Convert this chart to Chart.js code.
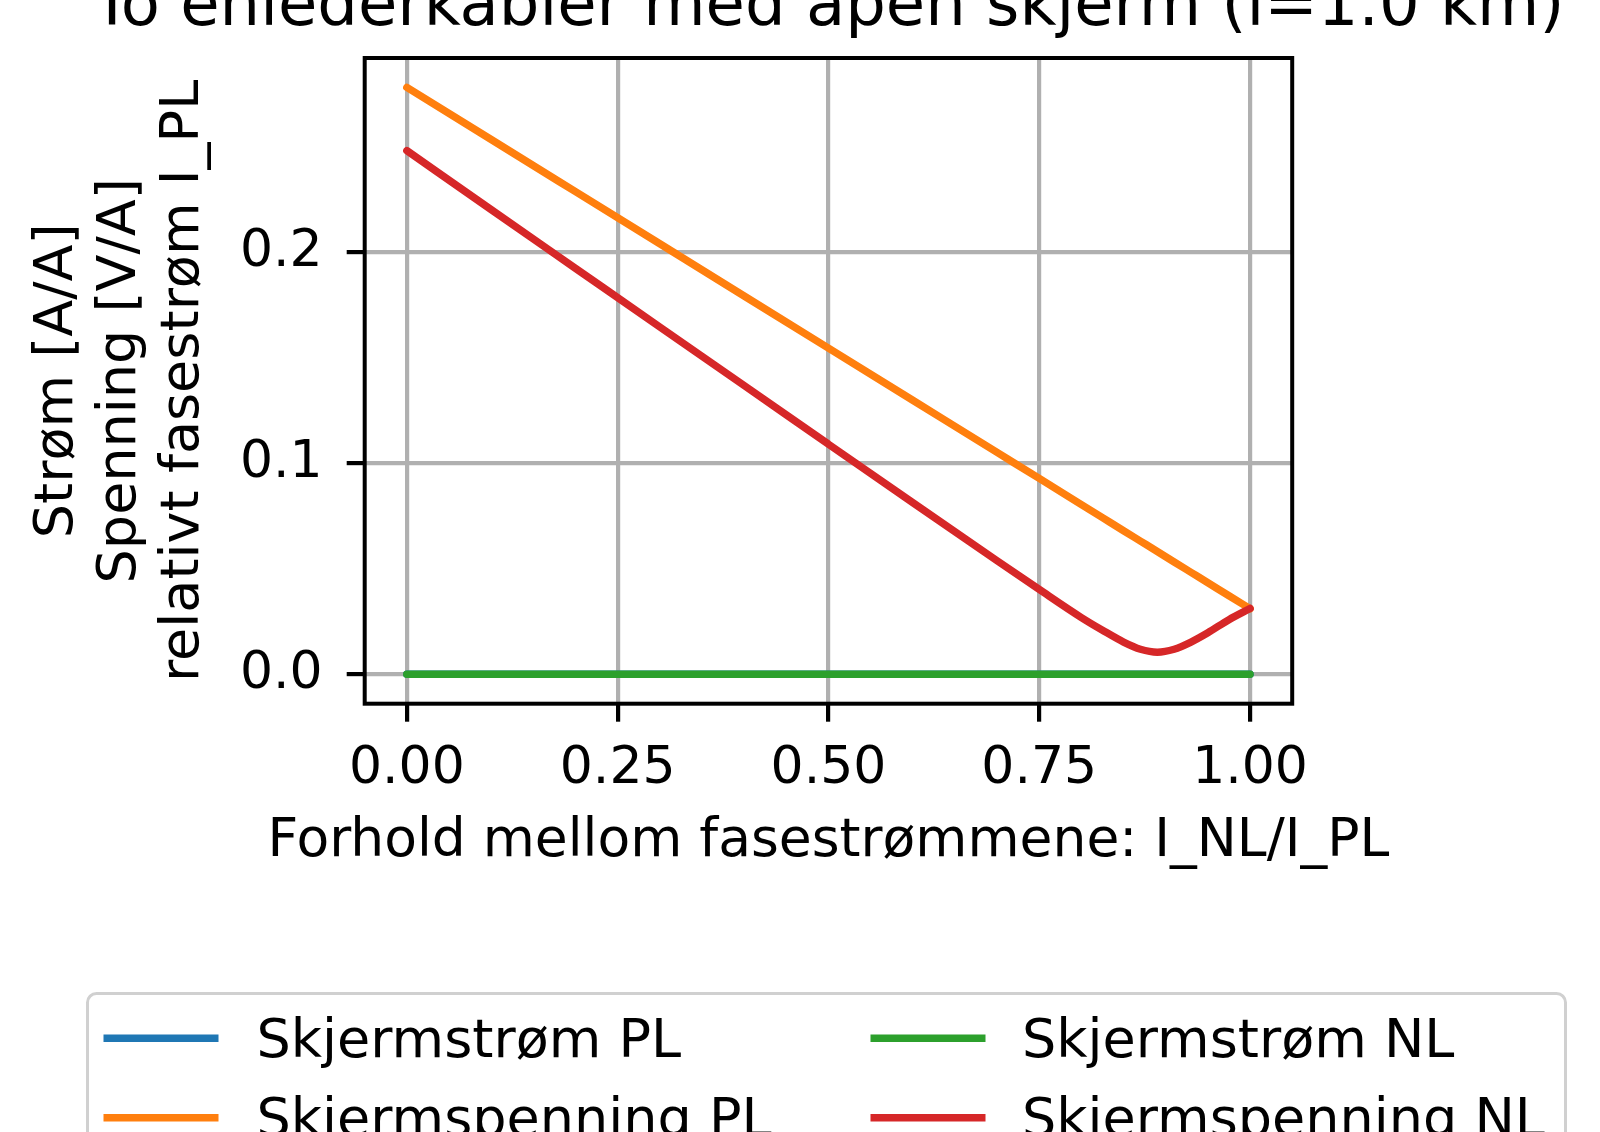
<!DOCTYPE html>
<html>
<head>
<meta charset="utf-8">
<script src="https://cdn.jsdelivr.net/npm/chart.js@4.4.1/dist/chart.umd.min.js"></script>
<style>
  html, body { margin: 0; padding: 0; background: #fff; }
  canvas { display: block; }
</style>
</head>
<body>
<canvas id="myChart" width="1600" height="1132"></canvas>
<script>
// ratio I_NL/I_PL
var xValues = [0, 0.1, 0.2, 0.3, 0.4, 0.5, 0.6, 0.7, 0.75, 0.8, 0.825, 0.85, 0.87, 0.89, 0.91, 0.93, 0.95, 0.975, 1.0];

var skjermstromPL   = [0, 0, 0, 0, 0, 0, 0, 0, 0, 0, 0, 0, 0, 0, 0, 0, 0, 0, 0];
var skjermspenningPL = [0.278, 0.2533, 0.2286, 0.2039, 0.1792, 0.1545, 0.1298, 0.1051, 0.0928, 0.0804, 0.0742, 0.068, 0.0631, 0.0582, 0.0532, 0.0483, 0.0434, 0.0372, 0.0311];
var skjermstromNL   = [0, 0, 0, 0, 0, 0, 0, 0, 0, 0, 0, 0, 0, 0, 0, 0, 0, 0, 0];
var skjermspenningNL = [0.248, 0.2201, 0.1923, 0.1645, 0.1368, 0.109, 0.0813, 0.0538, 0.0402, 0.0269, 0.0209, 0.0153, 0.0119, 0.0105, 0.0119, 0.0153, 0.0197, 0.0259, 0.0312];

var seriesNames = ['Skjermstrøm PL', 'Skjermspenning PL', 'Skjermstrøm NL', 'Skjermspenning NL'];
var seriesColors = ['#1f77b4', '#ff7f0e', '#2ca02c', '#d62728'];

var xTicks = [0, 0.25, 0.5, 0.75, 1.0];
var xTickLabels = ['0.00', '0.25', '0.50', '0.75', '1.00'];
var yTicks = [0, 0.1, 0.2];
var yTickLabels = ['0.0', '0.1', '0.2'];

var titleText = 'To enlederkabler med åpen skjerm (l=1.0 km)';
var xTitle = 'Forhold mellom fasestrømmene: I_NL/I_PL';
var yTitle = ['Strøm [A/A]', 'Spenning [V/A]', 'relativt fasestrøm I_PL'];

function points(ys) {
    return xValues.map(function (x, i) { return { x: x, y: ys[i] }; });
}

var allY = skjermstromPL.concat(skjermspenningPL, skjermstromNL, skjermspenningNL);
var yLo = Math.min.apply(null, allY), yHi = Math.max.apply(null, allY);
var yPad = (yHi - yLo) * 0.05;

Chart.defaults.font.family = 'DejaVu Sans';
Chart.defaults.color = '#000';

// title and x label drawn by hand: they are wider than the plot box
var textPlugin = {
    id: 'mplText',
    afterDraw: function (chart) {
        var c = chart.ctx, a = chart.chartArea;
        var cx = (a.left + a.right) / 2;
        c.save();
        c.fillStyle = '#000';
        c.textAlign = 'center';
        c.textBaseline = 'alphabetic';
        c.font = '64px "DejaVu Sans"';
        c.fillText(titleText, cx, 24.5);
        c.textBaseline = 'middle';
        c.font = '53.5px "DejaVu Sans"';
        c.fillText(xTitle, cx, 841.8);
        c.restore();
    }
};

var framePlugin = {
    id: 'frame',
    afterDatasetsDraw: function (chart) {
        var c = chart.ctx, a = chart.chartArea;
        c.save();
        c.strokeStyle = '#000';
        c.lineWidth = 4;
        c.strokeRect(a.left, a.top, a.right - a.left, a.bottom - a.top);
        c.restore();
    }
};

var legendPlugin = {
    id: 'mplLegend',
    afterDraw: function (chart) {
        var c = chart.ctx;
        c.save();
        c.beginPath();
        c.roundRect(87.5, 993.5, 1478, 300, 9);
        c.fillStyle = 'rgba(255,255,255,0.8)';
        c.fill();
        c.strokeStyle = '#d0d0d0';
        c.lineWidth = 3;
        c.stroke();
        var handleX = [103.5, 870.5], textX = [256.5, 1022], rowY = [1038.3, 1117.7];
        c.font = '54px "DejaVu Sans"';
        c.textBaseline = 'alphabetic';
        c.textAlign = 'left';
        chart.data.datasets.forEach(function (ds, i) {
            var col = Math.floor(i / 2), row = i % 2;
            c.strokeStyle = ds.borderColor;
            c.lineWidth = 7.5;
            c.lineCap = 'butt';
            c.beginPath();
            c.moveTo(handleX[col], rowY[row]);
            c.lineTo(handleX[col] + 115, rowY[row]);
            c.stroke();
            c.fillStyle = '#000';
            c.fillText(ds.label, textX[col], rowY[row] + 18.5);
        });
        c.restore();
    }
};

var ctx = document.getElementById('myChart').getContext('2d');

var myChart = new Chart(ctx, {
    type: 'line',
    data: {
        datasets: [skjermstromPL, skjermspenningPL, skjermstromNL, skjermspenningNL].map(function (ys, i) {
            return {
                label: seriesNames[i],
                data: points(ys),
                borderColor: seriesColors[i],
                backgroundColor: seriesColors[i],
                borderWidth: 7.5,
                borderCapStyle: 'round',
                borderJoinStyle: 'round',
                pointRadius: 0,
                cubicInterpolationMode: 'monotone',
                fill: false,
                order: 4 - i
            };
        })
    },
    options: {
        responsive: false,
        animation: false,
        devicePixelRatio: 1,
        layout: { padding: { left: 0, top: 58, right: 307.8, bottom: 0 } },
        plugins: {
            legend: { display: false },
            title: { display: false },
            tooltip: { enabled: false }
        },
        scales: {
            x: {
                type: 'linear',
                min: -0.05,
                max: 1.05,
                afterFit: function (s) { s.height = 1132 - 703.7; },
                afterBuildTicks: function (s) { s.ticks = xTicks.map(function (v) { return { value: v }; }); },
                ticks: {
                    font: { size: 52, lineHeight: 1.2 },
                    padding: 17,
                    maxRotation: 0,
                    autoSkip: false,
                    callback: function (v) { return xTickLabels[xTicks.indexOf(v)]; }
                },
                grid: { color: '#b0b0b0', lineWidth: 4.2, tickColor: '#000', tickWidth: 4.2, tickLength: 18 },
                border: { display: false },
                title: { display: false }
            },
            y: {
                type: 'linear',
                min: yLo - yPad,
                max: yHi + yPad,
                afterFit: function (s) { s.width = 364.7; },
                afterBuildTicks: function (s) { s.ticks = yTicks.map(function (v) { return { value: v }; }); },
                ticks: {
                    font: { size: 52, lineHeight: 1.2 },
                    padding: 24,
                    autoSkip: false,
                    callback: function (v) { return yTickLabels[yTicks.indexOf(v)]; }
                },
                grid: { color: '#b0b0b0', lineWidth: 4.2, tickColor: '#000', tickWidth: 4.2, tickLength: 18 },
                border: { display: false },
                title: { display: true, text: yTitle, font: { size: 54, lineHeight: 1.16 }, padding: { top: 26.9, bottom: 0 } }
            }
        }
    },
    plugins: [framePlugin, textPlugin, legendPlugin]
});
</script>
</body>
</html>
